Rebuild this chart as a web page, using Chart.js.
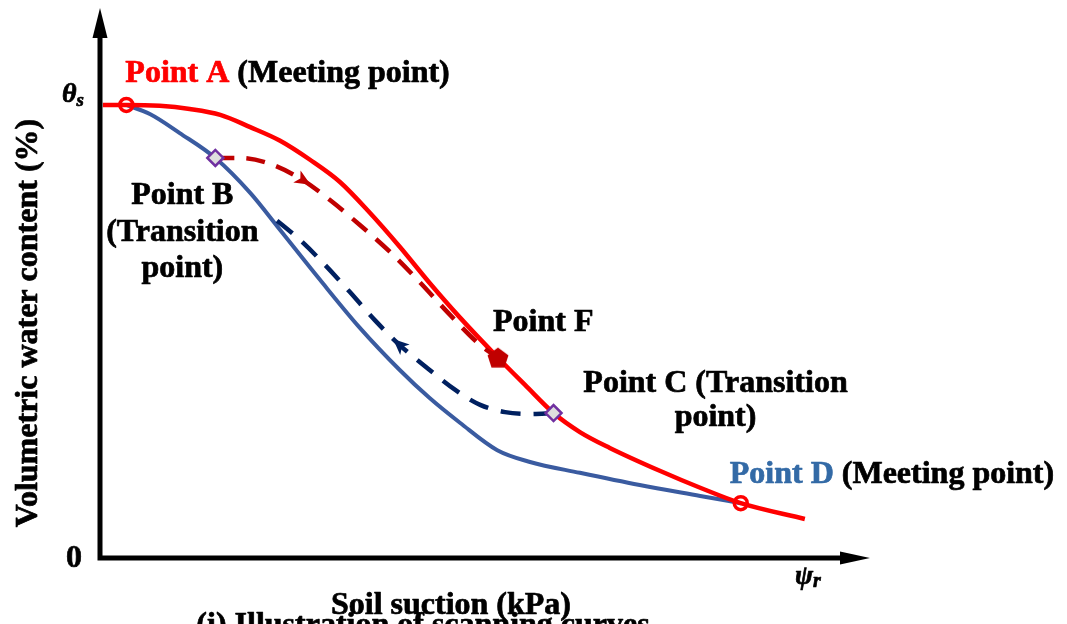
<!DOCTYPE html>
<html>
<head>
<meta charset="utf-8">
<script src="https://cdn.jsdelivr.net/npm/chart.js@4.4.1/dist/chart.umd.min.js"></script>
<style>
  html, body { margin: 0; padding: 0; background: #ffffff; overflow: hidden; }
  canvas { display: block; }
</style>
</head>
<body>
<canvas id="swcc" width="1067" height="624"></canvas>
<script>
// Soil suction as % of residual suction (psi_r = 100), water content as % of saturation (theta_s = 100)

// Main drying curve
const dryingSuction = [0.4, 3.7, 8.4, 12.6, 16.9, 21.1, 25.3, 29.5, 33.7, 37.9, 42.1, 46.3, 50.6, 55.9, 59.7, 63.7, 67.4, 71.6, 78.7, 84.3, 90.0, 99.0];
const dryingTheta   = [100.0, 100.0, 99.8, 99.1, 97.8, 95.1, 92.1, 87.9, 83.0, 76.2, 68.7, 60.7, 53.0, 44.2, 38.2, 32.0, 27.8, 24.3, 19.2, 15.5, 12.1, 8.6];

// Main wetting curve
const wettingSuction = [3.7, 7.0, 11.2, 16.2, 21.1, 25.3, 30.9, 36.5, 42.1, 46.3, 50.6, 55.8, 60.4, 67.4, 75.8, 84.3, 90.0];
const wettingTheta   = [100.0, 98.0, 93.8, 88.3, 80.6, 72.4, 61.4, 50.8, 41.5, 35.3, 29.8, 23.8, 21.2, 18.8, 16.1, 13.7, 12.1];

// Drying scanning curve (B -> F)
const scanDrySuction = [16.2, 19.7, 23.9, 28.5, 32.3, 36.5, 40.7, 44.9, 49.2, 53.4, 55.9];
const scanDryTheta   = [88.3, 88.3, 87.0, 83.4, 79.0, 73.5, 67.6, 60.9, 53.6, 47.0, 44.2];

// Wetting scanning curve (C -> back towards the wetting curve)
const scanWetSuction = [63.7, 60.4, 56.9, 53.4, 49.9, 46.3, 42.1, 38.6, 35.1, 31.6, 28.1, 23.9];
const scanWetTheta   = [32.0, 31.8, 32.2, 33.8, 37.1, 41.5, 47.0, 52.5, 58.7, 64.7, 70.2, 75.7];

// Characteristic points
const meetingPoints    = [{ x: 3.7, y: 100.0 }, { x: 90.0, y: 12.1 }];   // A, D
const transitionPoints = [{ x: 16.2, y: 88.3 }, { x: 63.7, y: 32.0 }];   // B, C
const pointF           = [{ x: 55.9, y: 44.2 }];

// Axis marks
const thetaSat = 100;
const psiRes = 100;

const zip = (xs, ys) => xs.map((x, i) => ({ x: x, y: ys[i] }));

const SERIF = '"Liberation Serif", "Times New Roman", serif';
const RED = '#ff0000';
const BLUE = '#3a5ba0';
const DARKRED = '#c00000';
const NAVY = '#002060';

// Pentagon marker for point F
const pentagon = document.createElement('canvas');
pentagon.width = 24; pentagon.height = 24;
(function () {
  const g = pentagon.getContext('2d');
  g.fillStyle = DARKRED;
  g.beginPath();
  for (let k = 0; k < 5; k++) {
    const a = -Math.PI / 2 + k * 2 * Math.PI / 5;
    const px = 12 + 11 * Math.cos(a), py = 12.8 + 11 * Math.sin(a);
    k === 0 ? g.moveTo(px, py) : g.lineTo(px, py);
  }
  g.closePath();
  g.fill();
})();

// Axes with arrowheads, direction arrows on the scanning curves, and all annotations
const decorPlugin = {
  id: 'decor',
  afterDatasetsDraw(chart) {
    const ctx = chart.ctx;
    // arrowheads along the scanning curves
    const arrows = [{ ds: 2, idx: 3, color: DARKRED }, { ds: 3, idx: 6, color: NAVY }];
    arrows.forEach(a => {
      const pts = chart.getDatasetMeta(a.ds).data;
      const p = pts[a.idx], p0 = pts[a.idx - 1], p1 = pts[a.idx + 1];
      const ang = Math.atan2(p1.y - p0.y, p1.x - p0.x);
      ctx.save();
      ctx.translate(p.x, p.y);
      ctx.rotate(ang);
      ctx.fillStyle = a.color;
      ctx.beginPath();
      ctx.moveTo(9, 0);
      ctx.lineTo(-7, -7);
      ctx.lineTo(-3, 0);
      ctx.lineTo(-7, 7);
      ctx.closePath();
      ctx.fill();
      ctx.restore();
    });
  },
  afterDraw(chart) {
    const ctx = chart.ctx;
    const area = chart.chartArea;
    const xs = chart.scales.x, ys = chart.scales.y;
    const ox = xs.getPixelForValue(0), oy = ys.getPixelForValue(0);

    // axes
    ctx.save();
    ctx.strokeStyle = '#000';
    ctx.fillStyle = '#000';
    ctx.lineWidth = 5;
    ctx.lineCap = 'butt';
    ctx.beginPath();
    ctx.moveTo(ox, oy + 2.5);
    ctx.lineTo(ox, area.top + 28);
    ctx.moveTo(ox - 2.5, oy);
    ctx.lineTo(area.right - 28, oy);
    ctx.stroke();
    ctx.beginPath();
    ctx.moveTo(ox, area.top);
    ctx.lineTo(ox - 7.5, area.top + 30);
    ctx.lineTo(ox + 7.5, area.top + 30);
    ctx.closePath();
    ctx.fill();
    ctx.beginPath();
    ctx.moveTo(area.right, oy);
    ctx.lineTo(area.right - 30, oy - 6.5);
    ctx.lineTo(area.right - 30, oy + 6.5);
    ctx.closePath();
    ctx.fill();
    ctx.restore();

    // bold serif text, lightly stroked for a heavier weight
    const text = (str, x, y, opt) => {
      opt = opt || {};
      ctx.save();
      ctx.font = (opt.italic ? 'italic ' : '') + 'bold ' + (opt.size || 32) + 'px ' + SERIF;
      ctx.fillStyle = opt.color || '#000';
      ctx.strokeStyle = opt.color || '#000';
      ctx.lineWidth = 0.7;
      ctx.lineJoin = 'round';
      ctx.textAlign = opt.align || 'left';
      ctx.textBaseline = opt.baseline || 'alphabetic';
      ctx.fillText(str, x, y);
      ctx.strokeText(str, x, y);
      const w = ctx.measureText(str).width;
      ctx.restore();
      return w;
    };
    const runs = (parts, x, y) => {
      let cx = x;
      parts.forEach(p => { cx += text(p[0], cx, y, { color: p[1] }); });
    };

    // axis marks
    text('0', ox - 26, oy + 9, { align: 'center' });
    const ty = ys.getPixelForValue(thetaSat);
    const tw = text('\u03b8', ox - 38, ty - 3, { italic: true, size: 28 });
    text('s', ox - 38 + tw, ty + 1, { italic: true, size: 19 });
    const px = xs.getPixelForValue(psiRes);
    const pw = text('\u03c8', px - 17, oy + 26, { italic: true, size: 27 });
    text('r', px - 17 + pw, oy + 29, { italic: true, size: 20 });

    // axis titles
    ctx.save();
    ctx.translate(29, (area.top + oy) / 2 + 40);
    ctx.rotate(-Math.PI / 2);
    text('Volumetric water content (%)', 0, 0, { align: 'center', baseline: 'middle' });
    ctx.restore();
    text('Soil suction (kPa)', 451, 614, { align: 'center' });
    text('(i) Illustration of scanning curves', 423, 634, { align: 'center' });

    // point annotations, anchored to the marks
    const at = p => ({ x: xs.getPixelForValue(p.x), y: ys.getPixelForValue(p.y) });
    const A = at(meetingPoints[0]), D = at(meetingPoints[1]);
    const B = at(transitionPoints[0]), C = at(transitionPoints[1]);
    const F = at(pointF[0]);

    runs([['Point A', RED], [' (Meeting point)', '#000']], A.x - 1, A.y - 23);
    runs([['Point D', '#336aa6'], [' (Meeting point)', '#000']], D.x - 11, D.y - 20);
    text('Point B', B.x - 33, B.y + 46, { align: 'center' });
    text('(Transition', B.x - 33, B.y + 83, { align: 'center' });
    text('point)', B.x - 33, B.y + 119, { align: 'center' });
    text('Point F', F.x - 5, F.y - 27);
    text('Point C (Transition', C.x + 162, C.y - 21, { align: 'center' });
    text('point)', C.x + 162, C.y + 13, { align: 'center' });
  }
};

const curve = { tension: 0.4, cubicInterpolationMode: 'monotone', pointRadius: 0 };

new Chart(document.getElementById('swcc'), {
  type: 'line',
  data: {
    datasets: [
      Object.assign({ label: 'drying', data: zip(dryingSuction, dryingTheta), borderColor: RED, borderWidth: 4.5, order: 4 }, curve),
      Object.assign({ label: 'wetting', data: zip(wettingSuction, wettingTheta), borderColor: BLUE, borderWidth: 4, order: 5 }, curve),
      Object.assign({ label: 'drying scanning', data: zip(scanDrySuction, scanDryTheta), borderColor: DARKRED, borderWidth: 4.5, borderDash: [19, 12], order: 2 }, curve),
      Object.assign({ label: 'wetting scanning', data: zip(scanWetSuction, scanWetTheta), borderColor: NAVY, borderWidth: 4.5, borderDash: [20, 13], order: 3 }, curve),
      { label: 'meeting points', data: meetingPoints, showLine: false, pointStyle: 'circle', pointRadius: 6.5,
        pointBorderColor: RED, pointBorderWidth: 3.5, pointBackgroundColor: 'rgba(0,0,0,0)', order: 0 },
      { label: 'transition points', data: transitionPoints, showLine: false, pointStyle: 'rectRot', pointRadius: 8,
        pointBorderColor: '#7030a0', pointBorderWidth: 2.5, pointBackgroundColor: '#dedede', order: 0 },
      { label: 'point F', data: pointF, showLine: false, pointStyle: pentagon, order: 0 }
    ]
  },
  options: {
    responsive: false,
    devicePixelRatio: 1,
    animation: false,
    layout: { autoPadding: false, padding: { left: 100, right: 197, top: 8, bottom: 66 } },
    scales: {
      x: { type: 'linear', min: 0, max: 108.15, display: false },
      y: { type: 'linear', min: 0, max: 121.4, display: false }
    },
    plugins: { legend: { display: false }, tooltip: { enabled: false } },
    elements: { line: { fill: false, borderCapStyle: 'butt' } }
  },
  plugins: [decorPlugin]
});
</script>
</body>
</html>
